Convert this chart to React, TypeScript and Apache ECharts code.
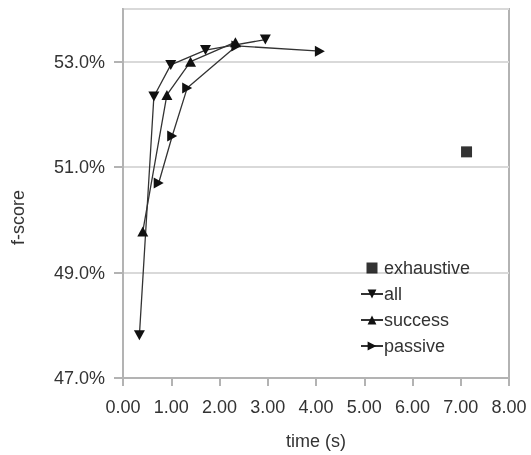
import React, { useEffect, useRef } from "react";
import * as echarts from "echarts";

const exhaustiveX = [7.12];
const exhaustiveY = [51.29];
const allX = [0.34, 0.64, 0.99, 1.71, 2.95];
const allY = [47.81, 52.34, 52.94, 53.22, 53.42];
const successX = [0.41, 0.91, 1.4, 2.33];
const successY = [49.78, 52.37, 53.0, 53.37];
const passiveX = [0.74, 1.02, 1.33, 2.35, 4.08];
const passiveY = [50.7, 51.59, 52.5, 53.3, 53.2];

const DOWN = "path://M0,0 L10,0 L5,9 Z";
const UP = "path://M5,0 L10,9 L0,9 Z";
const RIGHT = "path://M0,0 L9,5 L0,10 Z";
const SQUARE = "path://M0,0 L10,0 L10,10 L0,10 Z";

const zip = (xs: number[], ys: number[]) => xs.map((x, i) => [x, ys[i]]);

export default function App() {
  const ref = useRef<HTMLDivElement>(null);
  useEffect(() => {
    const chart = echarts.init(ref.current!, undefined, { renderer: "svg" });
    const font = "Liberation Sans";
    const lineStyle = { color: "#333", width: 1.3 };
    const itemStyle = { color: "#111" };
    chart.setOption({
      animation: false,
      textStyle: { fontFamily: font },
      grid: {
        left: 123,
        right: 22,
        top: 9,
        bottom: 77,
        show: true,
        borderColor: "#b3b3b3",
        borderWidth: 2,
      },
      xAxis: {
        type: "value",
        min: 0,
        max: 8,
        interval: 1,
        name: "time (s)",
        nameLocation: "middle",
        nameGap: 54,
        nameTextStyle: { color: "#333", fontSize: 18, fontFamily: font },
        axisLine: { lineStyle: { color: "#b3b3b3", width: 2 } },
        axisTick: { show: true, length: 8, lineStyle: { color: "#b3b3b3", width: 2 } },
        axisLabel: {
          color: "#333",
          fontSize: 18,
          margin: 20,
          formatter: (v: number) => v.toFixed(2),
        },
        splitLine: { show: false },
      },
      yAxis: {
        type: "value",
        min: 47,
        max: 54,
        interval: 2,
        name: "f-score",
        nameLocation: "middle",
        nameGap: 96,
        nameTextStyle: {
          color: "#333",
          fontSize: 18,
          fontFamily: font,
          padding: [0, 48, 0, 0],
        },
        axisLine: { show: true, lineStyle: { color: "#b3b3b3", width: 2 } },
        axisTick: { show: true, length: 9, lineStyle: { color: "#b3b3b3", width: 2 } },
        axisLabel: {
          color: "#333",
          fontSize: 18,
          margin: 18,
          showMaxLabel: false,
          formatter: (v: number) => (v >= 54 ? "" : v.toFixed(1) + "%"),
        },
        splitLine: { show: true, lineStyle: { color: "#d9d9d9", width: 2 } },
      },
      legend: {
        orient: "vertical",
        left: 355,
        top: 254,
        itemWidth: 22,
        itemHeight: 11,
        itemGap: 8,
        textStyle: { color: "#333", fontSize: 18, fontFamily: font, padding: [0, 0, 0, -4] },
        data: ["exhaustive", "all", "success", "passive"],
      },
      series: [
        {
          name: "exhaustive",
          type: "scatter",
          symbol: SQUARE,
          symbolSize: 11,
          itemStyle: { color: "#000" },
          data: zip(exhaustiveX, exhaustiveY),
        },
        {
          name: "all",
          type: "line",
          symbol: DOWN,
          symbolSize: [11, 10],
          showAllSymbol: true,
          lineStyle,
          itemStyle,
          data: zip(allX, allY),
        },
        {
          name: "success",
          type: "line",
          symbol: UP,
          symbolSize: [11, 10],
          lineStyle,
          itemStyle,
          data: zip(successX, successY),
        },
        {
          name: "passive",
          type: "line",
          symbol: RIGHT,
          symbolSize: [10, 11],
          lineStyle,
          itemStyle,
          data: zip(passiveX, passiveY),
        },
      ],
    });
    return () => chart.dispose();
  }, []);
  return (
    <div
      ref={ref}
      style={{ position: "fixed", left: 0, top: 0, width: 531, height: 455 }}
    />
  );
}
